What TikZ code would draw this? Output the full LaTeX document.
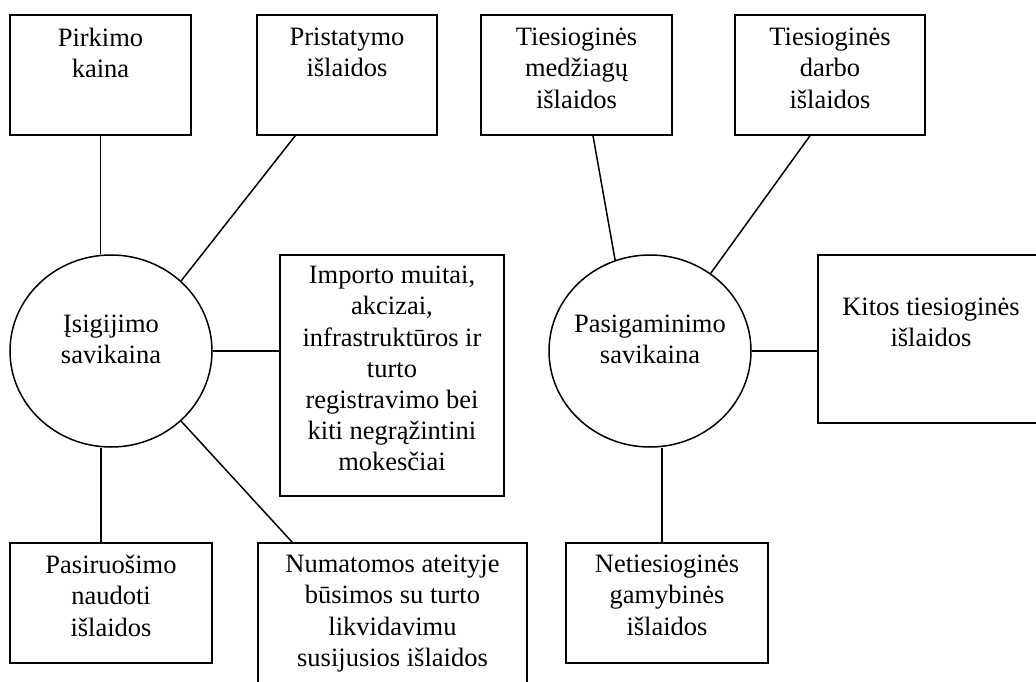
\documentclass[tikz,border=0pt]{standalone}
\usepackage{fontspec}
\setmainfont{Liberation Serif}

\tikzset{
    box/.style={draw, rectangle, inner sep=0pt, line width=1.5pt},
    roundbox/.style={draw, ellipse, inner sep=0pt, line width=1.5pt,
        minimum width=202pt, minimum height=192pt},
    txt/.style={anchor=north, align=center, inner sep=0pt,
        font=\fontsize{26.5}{31.2}\selectfont, execute at begin node=\strut},
    link/.style={line width=1.5pt}
}
\usetikzlibrary{shapes.geometric}

\begin{document}
\begin{tikzpicture}[x=1pt, y=-1pt]
    \clip (0,0) rectangle (1036,682);

    % isigijimo savikaina
    \node[roundbox] (isig) at (111,351) {};
    \node[txt] (isigtxt) at (111,315) {Įsigijimo\\savikaina};

    \node[box, minimum width=181pt, minimum height=120pt] (pirkimo) at (100.5,75) {};
    \node[txt] (pirkimotxt) at (100.5,28) {Pirkimo\\kaina};
    \node[box, minimum width=180pt, minimum height=120pt] (pristat) at (347,75) {};
    \node[txt] (pristattxt) at (347,28) {Pristatymo\\išlaidos};
    \node[box, minimum width=224pt, minimum height=241pt] (importo) at (392,375.5) {};
    \node[txt] (importotxt) at (392,266) {Importo muitai,\\akcizai,\\infrastruktūros ir\\turto\\registravimo bei\\kiti negrąžintini\\mokesčiai};
    \node[box, minimum width=202pt, minimum height=120pt] (pasir) at (111,603) {};
    \node[txt] (pasirtxt) at (111,555) {Pasiruošimo\\naudoti\\išlaidos};
    \node[box, minimum width=269pt, minimum height=157pt] (numat) at (392.5,621.5) {};
    \node[txt] (numattxt) at (392.5,555) {Numatomos ateityje\\būsimos su turto\\likvidavimu\\susijusios išlaidos};

    % pasigaminimo savikaina
    \node[roundbox] (pasig) at (650,351) {};
    \node[txt] (pasigtxt) at (650,315) {Pasigaminimo\\savikaina};

    \node[box, minimum width=191pt, minimum height=120pt] (medz) at (576.5,75) {};
    \node[txt] (medztxt) at (576.5,28) {Tiesioginės\\medžiagų\\išlaidos};
    \node[box, minimum width=190pt, minimum height=120pt] (darbo) at (830,75) {};
    \node[txt] (darbotxt) at (830,28) {Tiesioginės\\darbo\\išlaidos};
    \node[box, minimum width=226pt, minimum height=168pt] (kitos) at (931,339) {};
    \node[txt] (kitostxt) at (931,298) {Kitos tiesioginės\\išlaidos};
    \node[box, minimum width=202pt, minimum height=120pt] (netie) at (667,603) {};
    \node[txt] (netietxt) at (667,555) {Netiesioginės\\gamybinės\\išlaidos};

    \draw[link] (pirkimo.south) -- (pirkimo.south |- isig.north);
    \draw[link] ([xshift=39pt]pristat.south west) -- (isig.45);
    \draw[link] (isig.east) -- (isig.east -| importo.west);
    \draw[link] (isig.-45) -- ([xshift=35pt]numat.north west);
    \draw[link] ([xshift=-10pt]pasir.north) -- ([xshift=-10pt]pasir.north |- isig.south);

    \draw[link] ([xshift=16.5pt]medz.south) -- (pasig.111);
    \draw[link] ([xshift=-20pt]darbo.south) -- (pasig.52);
    \draw[link] (pasig.east) -- (pasig.east -| kitos.west);
    \draw[link] ([xshift=-5pt]netie.north) -- ([xshift=-5pt]netie.north |- pasig.south);
\end{tikzpicture}
\end{document}
